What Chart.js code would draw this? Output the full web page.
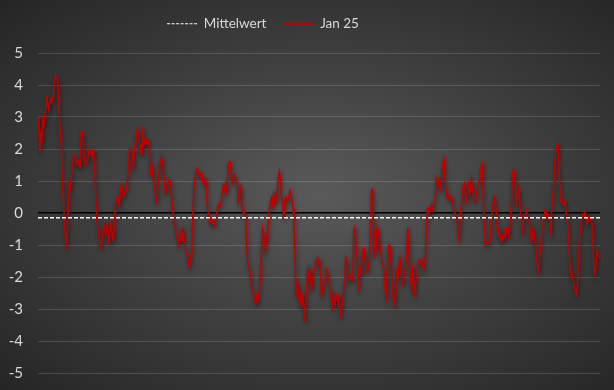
<!DOCTYPE html>
<html>
<head>
<meta charset="utf-8">
<script src="https://cdn.jsdelivr.net/npm/chart.js@4.4.1/dist/chart.umd.min.js"></script>
<style>
    html, body {
        margin: 0;
        padding: 0;
        width: 614px;
        height: 390px;
        overflow: hidden;
        background: radial-gradient(ellipse farthest-corner at 52% 50%, #5a5a5a 0%, #3c3c3c 55%, #252525 100%);
    }
    canvas { display: block; }
</style>
</head>
<body>
<canvas id="chartJan" width="614" height="390"></canvas>
<script>
// Werte Jan 25
const jan25 = [
    // Abschnitt 1
    3.0, 2.5, 1.9, 2.45, 2.3, 2.9, 2.75, 3.05, 3.3, 3.65, 3.35, 3.2, 3.5, 3.55, 3.45, 3.6, 3.75, 4.15, 4.3, 4.25, 4.2, 3.7, 2.85,
    2.4, 1.9, 0.8, 0.35, -0.35, -0.8, -1.0, -0.55, 0.25, 1.05, 0.8, 1.1, 1.5, 1.75, 1.8, 1.7, 1.55, 1.65, 1.5, 1.6,
    1.4, 2.55, 2.55, 2.3, 1.9, 1.6, 1.5, 1.6, 1.7, 1.95, 1.9, 1.95, 1.75, 1.95, 1.85, 1.2, 0.45, -0.25, -0.45, -0.7,
    -1.0, -1.1, -0.9, -0.7, -0.35, -0.55, -0.7, -0.5, -0.35, -1.0, -0.8, -0.35, -0.45, -0.85, -0.85, -0.25, 0.35, 0.45, 0.35, 0.45,
    0.15, 0.75, 0.9, 0.7, 0.5, 0.6, 0.65, 0.7, 1.0, 1.3, 1.95, 2.0,
    // Abschnitt 2
    2.0, 1.9, 1.3, 1.9, 2.2, 2.25, 2.6, 2.5, 2.4, 1.85, 2.15, 1.8, 2.7, 2.15, 2.25, 2.15, 2.3, 2.3, 2.1, 1.6,
    1.15, 1.5, 1.1, 1.0, 0.8, 0.45, 0.35, 0.7, 1.1, 1.6, 1.55, 1.75, 1.5, 1.2, 1.05, 0.55, 0.8, 0.9, 0.95, 1.05,
    1.0, 0.6, 0.25, -0.25, -0.3, -0.45, -0.7, -0.8, -1.0, -0.8, -0.85, -0.6, -0.9, -0.45, -0.9, -0.95, -1.2, -1.35, -1.5, -1.7,
    -1.6, -1.3, -0.8, 0.05, 0.8, 1.05, 1.3, 1.4, 1.35, 1.2, 1.25, 1.1, 1.2, 1.0, 1.05, 0.9, 1.1, 0.45, 0.15, -0.15,
    -0.3, -0.2, -0.35, -0.25, -0.3, -0.4, -0.15, -0.05, 0.15, 0.25, 0.2, 0.25, 0.4, 0.7, 0.85,
    // Abschnitt 3
    0.75, 0.9, 0.55, 0.95, 1.5, 1.6, 1.6, 1.2, 0.95, 1.1, 1.2, 1.15, 1.0, 0.9, 0.35, 0.5, 0.85, 0.75, 0.2, 0.05,
    0.05, -0.05, -0.15, -1.2, -1.6, -1.7, -1.8, -2.05, -2.4, -2.45, -2.55, -2.75, -2.85, -2.6, -2.75, -2.55, -2.35, -1.95, -1.0, -0.5,
    -0.7, -1.0, -1.2, -0.7, -0.8, -0.15, 0.15, 0.3, 0.45, 0.25, 0.55, 0.35, 0.6, 0.45, 0.7, 1.1, 1.3, 1.1, 0.6, 0.35,
    0.05, -0.2, 0.45, 0.5, 0.35, 0.45, 0.55, 0.7, 0.55, 0.45, 0.15, -0.35, -1.3, -2.65, -2.15, -2.25, -2.65, -2.85, -2.55, -2.95,
    -2.6, -2.85, -3.4, -2.85, -2.25, -1.8, -2.0, -1.75, -2.05, -2.45, -2.05, -1.95, -1.8, -1.5, -1.45,
    // Abschnitt 4
    -1.4, -1.6, -1.5, -1.95, -2.65, -2.35, -2.25, -2.2, -2.05, -1.75, -1.85, -2.05, -2.25, -2.55, -2.65, -3.05, -2.55, -2.65, -2.85, -2.55,
    -2.65, -2.85, -2.55, -3.3, -3.05, -2.85, -2.65, -2.25, -1.8, -1.4, -1.5, -2.05, -1.95, -2.05, -2.0, -2.15, -2.05, -0.55, -0.45, -0.9,
    -1.3, -1.8, -2.45, -1.6, -1.95, -1.6, -1.2, -1.4, -1.1, -1.7, -1.85, -1.8, -1.6, -1.5, -0.35, 0.7, 0.75, 0.05, -1.4, -0.55,
    -1.2, -0.45, -0.55, -0.8, -1.05, -1.4, -1.6, -1.7, -1.85, -2.45, -2.65, -2.05, -1.2, -1.0, -1.05, -1.6, -2.15, -2.65, -2.85, -2.55,
    -2.05, -1.8, -2.05, -1.6, -1.4, -1.7, -2.15, -2.25, -2.05, -1.8, -1.7, -1.1, -0.45, -1.0, -1.8, -2.15, -2.45,
    // Abschnitt 5
    -1.6, -2.15, -2.65, -2.15, -2.05, -1.6, -1.5, -1.45, -1.55, -1.5, -1.6, -1.8, -1.4, -1.35, -0.55, 0.15, 0.15, -0.05, 0.15, 0.25,
    0.1, 0.25, 0.35, 0.45, 1.1, 1.0, 0.9, 1.05, 0.7, 0.8, 1.4, 1.6, 1.7, 1.1, 0.7, 0.5, 0.55, 0.45, 0.4, 0.5,
    0.35, 0.4, 0.05, 0.05, -0.15, -0.15, -0.55, -0.8, -0.45, 0.05, 0.35, 0.8, 0.9, 0.95, 0.5, 0.35, 0.7, 0.9, 0.6, 0.7,
    1.05, 0.8, 0.35, 0.35, 0.35, 0.55, 0.8, 0.9, 1.0, 1.1, 1.5, 1.55, 0.3, -0.25, -1.0, -0.9, -0.95, -0.95, -0.95, -0.9,
    -0.25, 0.05, 0.35, 0.5, 0.35, 0.15, -0.45, -0.7, -0.55, -0.8, -0.7, -0.9, -0.75, -0.8, -0.55, -0.7, -0.45,
    // Abschnitt 6
    -0.45, -0.7, -0.45, 0.05, 0.45, 1.3, 1.35, 1.2, 0.7, 0.2, 0.55, 0.75, 0.45, -0.15, -0.35, -0.7, -0.25, -0.2, -0.05, 0.05,
    -0.15, -0.25, -0.25, -0.55, -0.95, -0.7, -0.5, -0.8, -1.0, -1.2, -1.6, -1.8, -1.6, -1.1, -0.8, -0.35, -0.25, -0.15, 0.1, 0.05,
    -0.15, -0.05, -0.1, -0.35, -0.7, 0.25, 0.55, 0.9, 1.6, 1.9, 2.1, 2.15, 1.5, 0.9, 0.35, 0.3, 0.35, 0.25, 0.35, 0.15,
    -0.15, -0.35, -0.7, -1.5, -1.8, -2.05, -1.95, -2.15, -2.35, -2.45, -2.55, -2.25, -1.6, -0.75, -0.55, -0.25, -0.05, -0.15, -0.1, 0.05,
    -0.25, -0.35, -0.25, -0.1, -0.15, -0.25, -0.35, -1.1, -1.8, -1.95, -1.6, -1.2, -1.3, -1.35, -1.4
];
const mittelwert = -0.15;
const yTicks = [-5, -4, -3, -2, -1, 0, 1, 2, 3, 4, 5];
const labels = jan25.map((v, i) => i + 1);
const mittelLinie = jan25.map(() => mittelwert);

// leichter Schatten unter der roten Linie
const schatten = {
    id: "schatten",
    beforeDatasetDraw(chart, args) {
        if (args.index === 1) {
            chart.ctx.save();
            chart.ctx.shadowColor = "rgba(0,0,0,0.55)";
            chart.ctx.shadowBlur = 4;
            chart.ctx.shadowOffsetX = 1;
            chart.ctx.shadowOffsetY = 2;
        }
    },
    afterDatasetDraw(chart, args) {
        if (args.index === 1) chart.ctx.restore();
    }
};

// Legende: feste Höhe und etwas nach links wie im Original
const legendePos = {
    id: "legendePos",
    beforeInit(chart) {
        const fit = chart.legend.fit;
        chart.legend.fit = function () {
            fit.call(this);
            this.height = 53;
        };
    },
    afterLayout(chart) {
        chart.legend.left -= 37;
        chart.legend.right -= 37;
    }
};

new Chart(document.getElementById("chartJan"), {
    type: "line",
    data: {
        labels: labels,
        datasets: [
            {
                label: "Mittelwert",
                data: mittelLinie,
                borderColor: "#ffffff",
                borderWidth: 1.5,
                borderDash: [4, 2],
                pointRadius: 0,
                order: 0
            },
            {
                label: "Jan 25",
                data: jan25,
                borderColor: "#c00000",
                borderWidth: 1.5,
                pointRadius: 0,
                tension: 0,
                order: 1
            }
        ]
    },
    options: {
        responsive: false,
        animation: false,
        devicePixelRatio: 1,
        layout: { padding: { top: 0, right: 14, bottom: 17, left: 0 } },
        plugins: {
            tooltip: { enabled: false },
            legend: {
                position: "top",
                labels: {
                    color: "#d9d9d9",
                    font: { family: "Lato", size: 13.5 },
                    usePointStyle: true,
                    pointStyle: "line",
                    pointStyleWidth: 30,
                    boxWidth: 30,
                    padding: 17,
                    generateLabels: (chart) => chart.data.datasets.map((ds, i) => ({
                        text: ds.label,
                        datasetIndex: i,
                        strokeStyle: ds.borderColor,
                        fillStyle: ds.borderColor,
                        lineWidth: i === 0 ? 1 : 2,
                        lineDash: i === 0 ? [3, 1.5] : [],
                        pointStyle: "line",
                        fontColor: "#d9d9d9",
                        hidden: false
                    }))
                }
            }
        },
        scales: {
            x: { display: false },
            y: {
                min: -5,
                max: 5,
                afterBuildTicks: (scale) => { scale.ticks = yTicks.map(v => ({ value: v })); },
                afterFit: (scale) => {
                    scale.width = 38;
                    scale.paddingTop = 0;
                    scale.paddingBottom = 0;
                },
                border: { display: false },
                grid: {
                    color: (ctx) => ctx.tick && ctx.tick.value === 0 ? "#000000" : "rgba(255,255,255,0.14)",
                    lineWidth: (ctx) => ctx.tick && ctx.tick.value === 0 ? 1.5 : 1,
                    drawTicks: false
                },
                ticks: {
                    color: "#d9d9d9",
                    font: { family: "Lato", size: 15 },
                    padding: 15,
                    autoSkip: false
                }
            }
        }
    },
    plugins: [schatten, legendePos]
});
</script>
</body>
</html>
